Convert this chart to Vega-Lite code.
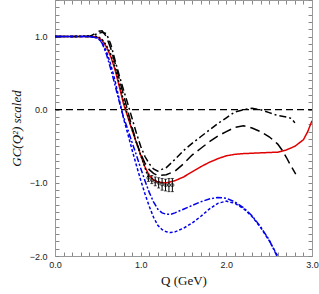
{
  "$schema": "https://vega.github.io/schema/vega-lite/v6.json",
  "width": 257,
  "height": 256,
  "autosize": "none",
  "padding": {"left": 55, "top": 0, "right": 7, "bottom": 38},
  "background": "white",
  "config": {
    "view": {"stroke": "#999999", "strokeWidth": 1},
    "axis": {
      "domainColor": "#999999",
      "tickColor": "#888888",
      "grid": false,
      "labelFont": "Liberation Sans",
      "labelFontSize": 9,
      "labelColor": "#222222",
      "titleFont": "Liberation Serif",
      "titleFontSize": 13,
      "titleFontWeight": "normal",
      "titleColor": "#111111"
    }
  },
  "datasets": {
    "curves": [
      {"s": "red", "Q": 0.0, "G": 1.0}, {"s": "red", "Q": 0.1, "G": 1.0}, {"s": "red", "Q": 0.2, "G": 1.0}, {"s": "red", "Q": 0.3, "G": 1.0}, {"s": "red", "Q": 0.4, "G": 1.0}, {"s": "red", "Q": 0.45, "G": 1.0}, {"s": "red", "Q": 0.5, "G": 0.99}, {"s": "red", "Q": 0.55, "G": 0.95}, {"s": "red", "Q": 0.6, "G": 0.86}, {"s": "red", "Q": 0.65, "G": 0.73}, {"s": "red", "Q": 0.7, "G": 0.55}, {"s": "red", "Q": 0.75, "G": 0.32}, {"s": "red", "Q": 0.8, "G": 0.08}, {"s": "red", "Q": 0.85, "G": -0.1}, {"s": "red", "Q": 0.9, "G": -0.28}, {"s": "red", "Q": 0.95, "G": -0.45}, {"s": "red", "Q": 1.0, "G": -0.62}, {"s": "red", "Q": 1.05, "G": -0.78}, {"s": "red", "Q": 1.1, "G": -0.9}, {"s": "red", "Q": 1.15, "G": -0.96}, {"s": "red", "Q": 1.2, "G": -0.99}, {"s": "red", "Q": 1.3, "G": -1.0}, {"s": "red", "Q": 1.4, "G": -0.97}, {"s": "red", "Q": 1.5, "G": -0.92}, {"s": "red", "Q": 1.6, "G": -0.85}, {"s": "red", "Q": 1.7, "G": -0.78}, {"s": "red", "Q": 1.8, "G": -0.72}, {"s": "red", "Q": 1.9, "G": -0.67}, {"s": "red", "Q": 2.0, "G": -0.63}, {"s": "red", "Q": 2.1, "G": -0.61}, {"s": "red", "Q": 2.2, "G": -0.6}, {"s": "red", "Q": 2.4, "G": -0.59}, {"s": "red", "Q": 2.6, "G": -0.58}, {"s": "red", "Q": 2.7, "G": -0.55}, {"s": "red", "Q": 2.8, "G": -0.5}, {"s": "red", "Q": 2.9, "G": -0.41}, {"s": "red", "Q": 2.95, "G": -0.3}, {"s": "red", "Q": 3.0, "G": -0.15},

      {"s": "dotted", "Q": 0.0, "G": 1.0}, {"s": "dotted", "Q": 0.2, "G": 1.0}, {"s": "dotted", "Q": 0.4, "G": 1.01}, {"s": "dotted", "Q": 0.5, "G": 1.0}, {"s": "dotted", "Q": 0.55, "G": 0.96}, {"s": "dotted", "Q": 0.6, "G": 0.88}, {"s": "dotted", "Q": 0.65, "G": 0.76}, {"s": "dotted", "Q": 0.7, "G": 0.58}, {"s": "dotted", "Q": 0.75, "G": 0.36}, {"s": "dotted", "Q": 0.8, "G": 0.12}, {"s": "dotted", "Q": 0.85, "G": -0.08}, {"s": "dotted", "Q": 0.9, "G": -0.27}, {"s": "dotted", "Q": 0.95, "G": -0.45}, {"s": "dotted", "Q": 1.0, "G": -0.62}, {"s": "dotted", "Q": 1.05, "G": -0.79}, {"s": "dotted", "Q": 1.09, "G": -0.93},

      {"s": "dashdot", "Q": 0.0, "G": 1.0}, {"s": "dashdot", "Q": 0.2, "G": 1.0}, {"s": "dashdot", "Q": 0.4, "G": 1.0}, {"s": "dashdot", "Q": 0.45, "G": 1.02}, {"s": "dashdot", "Q": 0.5, "G": 1.04}, {"s": "dashdot", "Q": 0.55, "G": 1.06}, {"s": "dashdot", "Q": 0.6, "G": 1.04}, {"s": "dashdot", "Q": 0.65, "G": 0.9}, {"s": "dashdot", "Q": 0.7, "G": 0.68}, {"s": "dashdot", "Q": 0.75, "G": 0.47}, {"s": "dashdot", "Q": 0.8, "G": 0.27}, {"s": "dashdot", "Q": 0.85, "G": 0.08}, {"s": "dashdot", "Q": 0.9, "G": -0.12}, {"s": "dashdot", "Q": 0.95, "G": -0.32}, {"s": "dashdot", "Q": 1.0, "G": -0.5}, {"s": "dashdot", "Q": 1.05, "G": -0.64}, {"s": "dashdot", "Q": 1.1, "G": -0.74}, {"s": "dashdot", "Q": 1.15, "G": -0.81}, {"s": "dashdot", "Q": 1.2, "G": -0.84}, {"s": "dashdot", "Q": 1.3, "G": -0.79}, {"s": "dashdot", "Q": 1.4, "G": -0.68}, {"s": "dashdot", "Q": 1.5, "G": -0.56}, {"s": "dashdot", "Q": 1.6, "G": -0.46}, {"s": "dashdot", "Q": 1.7, "G": -0.37}, {"s": "dashdot", "Q": 1.8, "G": -0.28}, {"s": "dashdot", "Q": 1.9, "G": -0.19}, {"s": "dashdot", "Q": 2.0, "G": -0.11}, {"s": "dashdot", "Q": 2.1, "G": -0.03}, {"s": "dashdot", "Q": 2.2, "G": 0.0}, {"s": "dashdot", "Q": 2.3, "G": 0.02}, {"s": "dashdot", "Q": 2.4, "G": 0.0}, {"s": "dashdot", "Q": 2.5, "G": -0.04}, {"s": "dashdot", "Q": 2.6, "G": -0.08}, {"s": "dashdot", "Q": 2.7, "G": -0.1}, {"s": "dashdot", "Q": 2.76, "G": -0.12}, {"s": "dashdot", "Q": 2.8, "G": -0.18},

      {"s": "longdash", "Q": 0.0, "G": 1.0}, {"s": "longdash", "Q": 0.2, "G": 1.0}, {"s": "longdash", "Q": 0.4, "G": 1.0}, {"s": "longdash", "Q": 0.45, "G": 1.03}, {"s": "longdash", "Q": 0.5, "G": 1.07}, {"s": "longdash", "Q": 0.55, "G": 1.08}, {"s": "longdash", "Q": 0.6, "G": 1.0}, {"s": "longdash", "Q": 0.65, "G": 0.84}, {"s": "longdash", "Q": 0.7, "G": 0.64}, {"s": "longdash", "Q": 0.75, "G": 0.42}, {"s": "longdash", "Q": 0.8, "G": 0.2}, {"s": "longdash", "Q": 0.85, "G": -0.02}, {"s": "longdash", "Q": 0.9, "G": -0.24}, {"s": "longdash", "Q": 0.95, "G": -0.44}, {"s": "longdash", "Q": 1.0, "G": -0.6}, {"s": "longdash", "Q": 1.05, "G": -0.73}, {"s": "longdash", "Q": 1.1, "G": -0.82}, {"s": "longdash", "Q": 1.15, "G": -0.87}, {"s": "longdash", "Q": 1.2, "G": -0.9}, {"s": "longdash", "Q": 1.3, "G": -0.89}, {"s": "longdash", "Q": 1.4, "G": -0.84}, {"s": "longdash", "Q": 1.5, "G": -0.74}, {"s": "longdash", "Q": 1.6, "G": -0.62}, {"s": "longdash", "Q": 1.7, "G": -0.53}, {"s": "longdash", "Q": 1.8, "G": -0.44}, {"s": "longdash", "Q": 1.9, "G": -0.36}, {"s": "longdash", "Q": 2.0, "G": -0.3}, {"s": "longdash", "Q": 2.1, "G": -0.24}, {"s": "longdash", "Q": 2.2, "G": -0.22}, {"s": "longdash", "Q": 2.3, "G": -0.25}, {"s": "longdash", "Q": 2.4, "G": -0.3}, {"s": "longdash", "Q": 2.5, "G": -0.37}, {"s": "longdash", "Q": 2.6, "G": -0.47}, {"s": "longdash", "Q": 2.65, "G": -0.55}, {"s": "longdash", "Q": 2.7, "G": -0.65}, {"s": "longdash", "Q": 2.75, "G": -0.76}, {"s": "longdash", "Q": 2.81, "G": -0.88},

      {"s": "blue1", "Q": 0.0, "G": 1.0}, {"s": "blue1", "Q": 0.2, "G": 1.0}, {"s": "blue1", "Q": 0.4, "G": 1.0}, {"s": "blue1", "Q": 0.5, "G": 0.98}, {"s": "blue1", "Q": 0.55, "G": 0.92}, {"s": "blue1", "Q": 0.6, "G": 0.8}, {"s": "blue1", "Q": 0.65, "G": 0.62}, {"s": "blue1", "Q": 0.7, "G": 0.4}, {"s": "blue1", "Q": 0.75, "G": 0.14}, {"s": "blue1", "Q": 0.8, "G": -0.12}, {"s": "blue1", "Q": 0.85, "G": -0.33}, {"s": "blue1", "Q": 0.9, "G": -0.55}, {"s": "blue1", "Q": 0.95, "G": -0.76}, {"s": "blue1", "Q": 1.0, "G": -0.96}, {"s": "blue1", "Q": 1.05, "G": -1.15}, {"s": "blue1", "Q": 1.1, "G": -1.32}, {"s": "blue1", "Q": 1.15, "G": -1.47}, {"s": "blue1", "Q": 1.2, "G": -1.58}, {"s": "blue1", "Q": 1.25, "G": -1.64}, {"s": "blue1", "Q": 1.3, "G": -1.67}, {"s": "blue1", "Q": 1.35, "G": -1.68}, {"s": "blue1", "Q": 1.4, "G": -1.67}, {"s": "blue1", "Q": 1.5, "G": -1.62}, {"s": "blue1", "Q": 1.6, "G": -1.55}, {"s": "blue1", "Q": 1.7, "G": -1.46}, {"s": "blue1", "Q": 1.8, "G": -1.36}, {"s": "blue1", "Q": 1.9, "G": -1.28}, {"s": "blue1", "Q": 2.0, "G": -1.25}, {"s": "blue1", "Q": 2.1, "G": -1.28}, {"s": "blue1", "Q": 2.2, "G": -1.35}, {"s": "blue1", "Q": 2.3, "G": -1.46}, {"s": "blue1", "Q": 2.4, "G": -1.61}, {"s": "blue1", "Q": 2.5, "G": -1.79}, {"s": "blue1", "Q": 2.6, "G": -2.0},

      {"s": "blue2", "Q": 0.0, "G": 1.0}, {"s": "blue2", "Q": 0.2, "G": 1.0}, {"s": "blue2", "Q": 0.4, "G": 1.0}, {"s": "blue2", "Q": 0.5, "G": 0.98}, {"s": "blue2", "Q": 0.55, "G": 0.91}, {"s": "blue2", "Q": 0.6, "G": 0.76}, {"s": "blue2", "Q": 0.65, "G": 0.56}, {"s": "blue2", "Q": 0.7, "G": 0.34}, {"s": "blue2", "Q": 0.75, "G": 0.11}, {"s": "blue2", "Q": 0.8, "G": -0.1}, {"s": "blue2", "Q": 0.85, "G": -0.27}, {"s": "blue2", "Q": 0.9, "G": -0.45}, {"s": "blue2", "Q": 0.95, "G": -0.62}, {"s": "blue2", "Q": 1.0, "G": -0.8}, {"s": "blue2", "Q": 1.05, "G": -0.97}, {"s": "blue2", "Q": 1.1, "G": -1.13}, {"s": "blue2", "Q": 1.15, "G": -1.26}, {"s": "blue2", "Q": 1.2, "G": -1.36}, {"s": "blue2", "Q": 1.25, "G": -1.41}, {"s": "blue2", "Q": 1.3, "G": -1.43}, {"s": "blue2", "Q": 1.35, "G": -1.43}, {"s": "blue2", "Q": 1.4, "G": -1.41}, {"s": "blue2", "Q": 1.5, "G": -1.36}, {"s": "blue2", "Q": 1.6, "G": -1.31}, {"s": "blue2", "Q": 1.7, "G": -1.26}, {"s": "blue2", "Q": 1.8, "G": -1.22}, {"s": "blue2", "Q": 1.9, "G": -1.2}, {"s": "blue2", "Q": 2.0, "G": -1.21}, {"s": "blue2", "Q": 2.1, "G": -1.26}, {"s": "blue2", "Q": 2.2, "G": -1.34}, {"s": "blue2", "Q": 2.3, "G": -1.45}, {"s": "blue2", "Q": 2.4, "G": -1.6}, {"s": "blue2", "Q": 2.5, "G": -1.78}, {"s": "blue2", "Q": 2.59, "G": -2.0}
    ],
    "points": [
      {"Q": 1.09, "G": -0.93, "lo": -0.98, "hi": -0.88},
      {"Q": 1.13, "G": -0.96, "lo": -1.01, "hi": -0.9},
      {"Q": 1.17, "G": -0.98, "lo": -1.04, "hi": -0.92},
      {"Q": 1.21, "G": -1.0, "lo": -1.07, "hi": -0.93},
      {"Q": 1.25, "G": -1.02, "lo": -1.1, "hi": -0.94},
      {"Q": 1.29, "G": -1.03, "lo": -1.11, "hi": -0.95},
      {"Q": 1.33, "G": -1.03, "lo": -1.12, "hi": -0.94},
      {"Q": 1.37, "G": -1.03, "lo": -1.12, "hi": -0.94}
    ],
    "zero": [{"Q": 0, "G": 0}, {"Q": 3, "G": 0}]
  },
  "layer": [
    {
      "data": {"name": "zero"},
      "mark": {"type": "line", "color": "black", "strokeWidth": 1.2, "strokeDash": [7, 4], "clip": true},
      "encoding": {
        "x": {"field": "Q", "type": "quantitative", "scale": {"domain": [0, 3], "nice": false},
          "axis": {"orient": "bottom", "title": "Q (GeV)", "values": [0,0.1,0.2,0.3,0.4,0.5,0.6,0.7,0.8,0.9,1,1.1,1.2,1.3,1.4,1.5,1.6,1.7,1.8,1.9,2,2.1,2.2,2.3,2.4,2.5,2.6,2.7,2.8,2.9,3],
            "labelExpr": "abs(datum.value - round(datum.value)) < 0.001 ? format(datum.value, '.1f') : ''",
            "tickSize": -4,
            "labelPadding": 8, "titlePadding": 5, "labelFlush": false}},
        "y": {"field": "G", "type": "quantitative", "scale": {"domain": [-2, 1.5], "nice": false},
          "axis": {"orient": "left", "title": "GC(Q²) scaled", "titleFontStyle": "italic", "values": [-2,-1.9,-1.8,-1.7,-1.6,-1.5,-1.4,-1.3,-1.2,-1.1,-1,-0.9,-0.8,-0.7,-0.6,-0.5,-0.4,-0.3,-0.2,-0.1,0,0.1,0.2,0.3,0.4,0.5,0.6,0.7,0.8,0.9,1,1.1,1.2,1.3,1.4,1.5],
            "labelExpr": "abs(datum.value - round(datum.value)) < 0.001 ? format(datum.value, '.1f') : ''",
            "tickSize": -4,
            "labelPadding": 12, "titlePadding": 6, "labelFlush": false}}
      }
    },
    {
      "data": {"name": "zero"},
      "mark": {"type": "line", "opacity": 0},
      "encoding": {
        "x": {"field": "Q", "type": "quantitative",
          "axis": {"orient": "top", "title": null, "labels": false, "values": [0,0.1,0.2,0.3,0.4,0.5,0.6,0.7,0.8,0.9,1,1.1,1.2,1.3,1.4,1.5,1.6,1.7,1.8,1.9,2,2.1,2.2,2.3,2.4,2.5,2.6,2.7,2.8,2.9,3],
            "tickSize": -4}},
        "y": {"field": "G", "type": "quantitative",
          "axis": {"orient": "right", "title": null, "labels": false, "values": [-2,-1.9,-1.8,-1.7,-1.6,-1.5,-1.4,-1.3,-1.2,-1.1,-1,-0.9,-0.8,-0.7,-0.6,-0.5,-0.4,-0.3,-0.2,-0.1,0,0.1,0.2,0.3,0.4,0.5,0.6,0.7,0.8,0.9,1,1.1,1.2,1.3,1.4,1.5],
            "tickSize": -4}}
      }
    },
    {
      "data": {"name": "curves"},
      "mark": {"type": "line", "clip": true, "strokeWidth": 1.5},
      "encoding": {
        "x": {"field": "Q", "type": "quantitative", "axis": null},
        "y": {"field": "G", "type": "quantitative", "axis": null},
        "detail": {"field": "s"},
        "color": {"field": "s", "type": "nominal", "legend": null,
          "scale": {"domain": ["red", "dotted", "dashdot", "longdash", "blue1", "blue2"], "range": ["#e00000", "#000000", "#000000", "#000000", "#0000ee", "#0000ee"]}},
        "strokeDash": {"field": "s", "type": "nominal", "legend": null,
          "scale": {"domain": ["red", "dotted", "dashdot", "longdash", "blue1", "blue2"], "range": [[1, 0], [2, 2], [7, 3, 2, 3], [10, 5], [3, 2], [6, 2, 2, 2]]}},
        "strokeWidth": {"field": "s", "type": "nominal", "legend": null,
          "scale": {"domain": ["red", "dotted", "dashdot", "longdash", "blue1", "blue2"], "range": [1.8, 1.4, 1.6, 1.6, 1.3, 1.3]}}
      }
    },
    {
      "data": {"name": "points"},
      "mark": {"type": "errorbar", "ticks": {"size": 3, "color": "black"}, "color": "black", "thickness": 1},
      "encoding": {
        "x": {"field": "Q", "type": "quantitative", "axis": null},
        "y": {"field": "lo", "type": "quantitative", "axis": null},
        "y2": {"field": "hi"}
      }
    },
    {
      "data": {"name": "points"},
      "mark": {"type": "point", "shape": "circle", "size": 10, "color": "black", "strokeWidth": 1, "filled": false},
      "encoding": {
        "x": {"field": "Q", "type": "quantitative", "axis": null},
        "y": {"field": "G", "type": "quantitative", "axis": null}
      }
    }
  ],
  "resolve": {"axis": {"x": "independent", "y": "independent"}}
}
